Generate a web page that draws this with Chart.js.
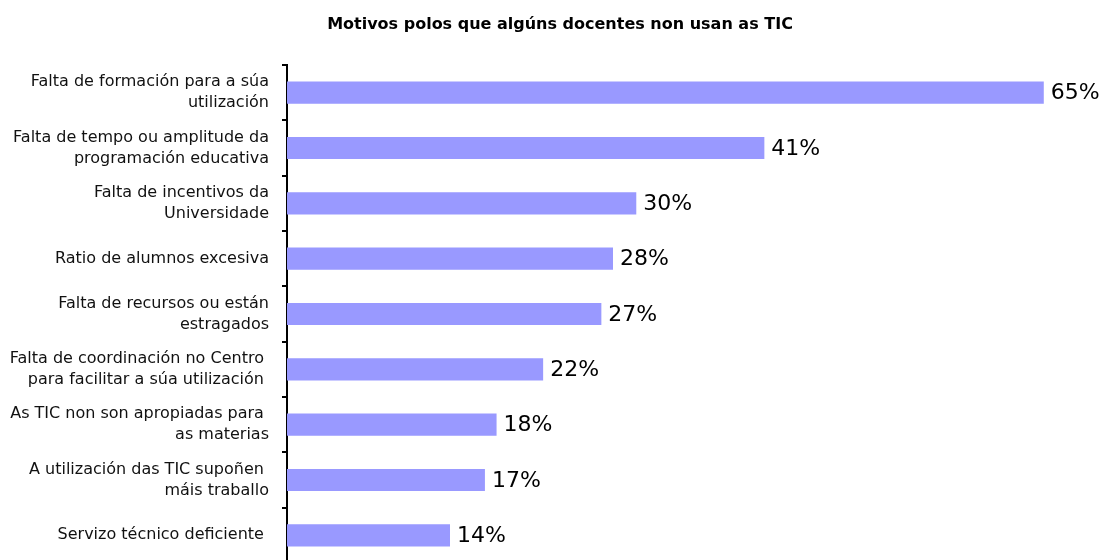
<!DOCTYPE html>
<html>
<head>
<meta charset="utf-8">
<title>Motivos polos que algúns docentes non usan as TIC</title>
<script src="https://cdn.jsdelivr.net/npm/chart.js@4/dist/chart.umd.min.js"></script>
<style>
  html, body { margin: 0; padding: 0; background: #fff; overflow: hidden; }
  #wrap { position: relative; width: 1104px; height: 570px; }
</style>
</head>
<body>
<div id="wrap"><canvas id="canvas"></canvas></div>
<script>
var chartTitle = 'Motivos polos que algúns docentes non usan as TIC';

var motivos = [
  ['Falta de formación para a súa', 'utilización'],
  ['Falta de tempo ou amplitude da', 'programación educativa'],
  ['Falta de incentivos da', 'Universidade'],
  'Ratio de alumnos excesiva',
  ['Falta de recursos ou están', 'estragados'],
  ['Falta de coordinación no Centro ', 'para facilitar a súa utilización '],
  ['As TIC non son apropiadas para ', 'as materias'],
  ['A utilización das TIC supoñen ', 'máis traballo'],
  'Servizo técnico deficiente '
];

var porcentaxes = [65, 41, 30, 28, 27, 22, 18, 17, 14];

var fontFamily = "'DejaVu Sans', Verdana, sans-serif";

// value labels at the end of each bar
var barLabels = {
  id: 'barLabels',
  afterLayout: function(chart) {
    // title sits a little right of the canvas centre
    if (chart.titleBlock) chart.titleBlock.left += 18;
  },
  afterDatasetsDraw: function(chart) {
    var ctx = chart.ctx;
    chart.data.datasets.forEach(function(dataset, i) {
      var meta = chart.getDatasetMeta(i);
      if (meta.hidden) return;
      meta.data.forEach(function(element, index) {
        ctx.save();
        ctx.fillStyle = '#000';
        ctx.font = '22px ' + fontFamily;
        ctx.textAlign = 'left';
        ctx.textBaseline = 'middle';
        ctx.fillText(dataset.data[index] + '%', element.x + 7, element.y + 1);
        ctx.restore();
      });
    });
  }
};

window.onload = function() {
  var ctx = document.getElementById('canvas').getContext('2d');
  window.myBar = new Chart(ctx, {
    type: 'bar',
    data: {
      labels: motivos,
      datasets: [{
        label: 'Docentes',
        data: porcentaxes,
        backgroundColor: '#9999FF',
        borderWidth: 0,
        barPercentage: 0.4,
        categoryPercentage: 1
      }]
    },
    plugins: [barLabels],
    options: {
      indexAxis: 'y',
      responsive: true,
      maintainAspectRatio: false,
      animation: false,
      layout: { padding: { left: 0, right: 2, top: 0, bottom: 7 } },
      plugins: {
        legend: { display: false },
        tooltip: { enabled: false },
        title: {
          display: true,
          text: chartTitle,
          color: '#000',
          font: { family: fontFamily, size: 16, weight: 'bold', lineHeight: 1.2 },
          padding: { top: 15, bottom: 30.8 }
        }
      },
      scales: {
        x: {
          display: false,
          min: 0,
          max: 70
        },
        y: {
          grid: {
            display: true,
            drawOnChartArea: false,
            drawTicks: true,
            tickLength: 5,
            color: '#000',
            lineWidth: 2,
            offset: true
          },
          border: { display: true, color: '#000', width: 2 },
          ticks: {
            color: '#111',
            autoSkip: false,
            padding: 13,
            font: { family: fontFamily, size: 16, lineHeight: 1.32 }
          },
          afterFit: function(scale) {
            scale.width = 287;
            scale.paddingTop = 0;
            scale.paddingBottom = 0;
          }
        }
      }
    }
  });
};
</script>
</body>
</html>
